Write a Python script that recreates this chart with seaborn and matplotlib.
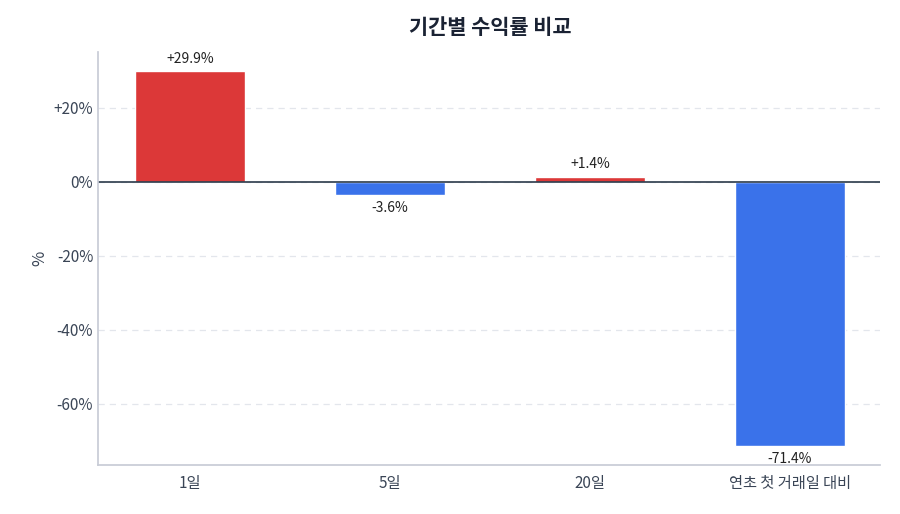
import numpy as np
import pandas as pd
import seaborn as sns
import matplotlib.pyplot as plt

# 기간별 수익률 (%)
periods = ["1일", "5일", "20일", "연초 첫 거래일 대비"]
returns = [29.9, -3.6, 1.4, -71.4]
yticks = [-60, -40, -20, 0, 20]

RED = "#dc3838"
BLUE = "#3a72ea"

sns.set_theme(style="white")
plt.rcParams['font.family'] = ['Noto Sans CJK KR', 'DejaVu Sans']

df = pd.DataFrame({"period": periods, "ret": returns})
colors = [RED if v >= 0 else BLUE for v in returns]

fig = plt.figure(figsize=(9, 5.14), dpi=100)
ax = fig.add_axes([98 / 900, 1 - 465 / 514, 782 / 900, 413 / 514])

sns.barplot(data=df, x="period", y="ret", hue="period", palette=colors,
            width=0.55, legend=False, ax=ax, saturation=1)

for i, v in enumerate(returns):
    if v >= 0:
        ax.text(i, v + 1.5, f"+{v:.1f}%", ha="center", va="bottom", fontsize=10, color="#222222")
    else:
        ax.text(i, v - 1.5, f"{v:.1f}%", ha="center", va="top", fontsize=10, color="#222222")

ax.axhline(0, color="#2b3a4a", lw=1.2)
ax.set_ylim(-76.5, 35.1)
ax.set_xlim(-0.46, 3.45)
ax.set_yticks(yticks)
ax.set_yticklabels([f"+{t}%" if t > 0 else f"{t}%" for t in yticks])
ax.yaxis.grid(True, ls=(0, (5, 4)), color="#e3e6ec", lw=0.9)
ax.set_axisbelow(True)
ax.set_xlabel("")
ax.set_ylabel("%", fontsize=12, color="#3a4556")
ax.tick_params(axis="both", labelsize=11, colors="#3a4556", length=0)
ax.tick_params(axis="x", length=4, color="#b0b6c3")
for s in ["top", "right"]:
    ax.spines[s].set_visible(False)
for s in ["left", "bottom"]:
    ax.spines[s].set_color("#c8ccd6")

fig.text(490 / 900, 1 - 28 / 514, "기간별 수익률 비교", ha="center", va="center",
         fontsize=15, fontweight="bold", color="#1a2233")

fig.savefig("out.png", dpi=100)
